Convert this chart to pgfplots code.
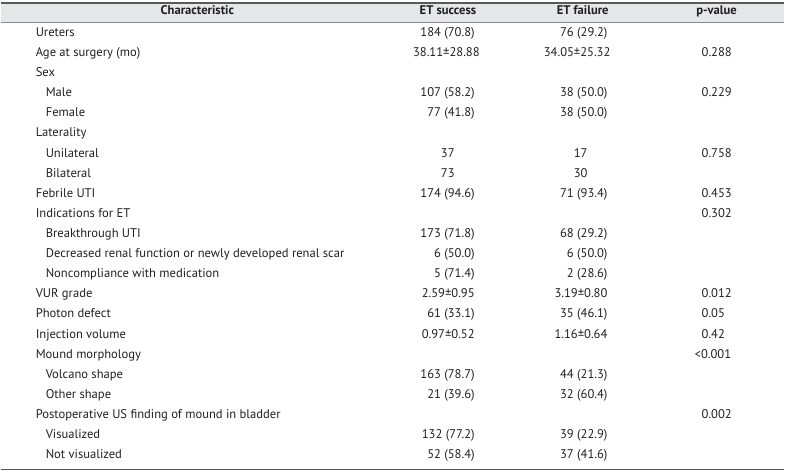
\documentclass[border=0pt]{standalone}
\usepackage{pgfplots}
\usepackage{pgfplotstable}
\pgfplotsset{compat=1.18}
\usepackage{fontspec}
\setmainfont{PT Sans}
\definecolor{txt}{HTML}{231F20}
\definecolor{hdr}{HTML}{E6E7E8}
\definecolor{rule}{HTML}{58595B}
\pgfplotstableread[col sep=semicolon]{
row;ind;char;xs;succ;xf;fail;xp;p
0;35;Ureters;475;184 (70.8);608;76 (29.2);702;{}
1;35;Age at surgery (mo);480;38.11±28.88;611;34.05±25.32;702;0.288
2;35;Sex;475;{};608;{};702;{}
3;45;Male;475;107 (58.2);608;38 (50.0);702;0.229
4;45;Female;475;77 (41.8);608;38 (50.0);702;{}
5;35;Laterality;475;{};608;{};702;{}
6;45;Unilateral;455;37;588;17;702;0.758
7;45;Bilateral;455;73;588;30;702;{}
8;35;Febrile UTI;475;174 (94.6);608;71 (93.4);702;0.453
9;35;Indications for ET;475;{};608;{};702;0.302
10;45;Breakthrough UTI;475;173 (71.8);608;68 (29.2);702;{}
11;45;Decreased renal function or newly developed renal scar;475;6 (50.0);608;6 (50.0);702;{}
12;45;Noncompliance with medication;475;5 (71.4);608;2 (28.6);702;{}
13;35;VUR grade;475;2.59±0.95;608;3.19±0.80;702;0.012
14;35;Photon defect;475;61 (33.1);608;35 (46.1);702;0.05
15;35;Injection volume;475;0.97±0.52;608;1.16±0.64;702;0.42
16;35;Mound morphology;475;{};608;{};695;<0.001
17;45;Volcano shape;475;163 (78.7);608;44 (21.3);702;{}
18;45;Other shape;475;21 (39.6);608;32 (60.4);702;{}
19;35;Postoperative US finding of mound in bladder;475;{};608;{};702;0.002
20;45;Visualized;475;132 (77.2);608;39 (22.9);702;{}
21;45;Not visualized;475;52 (58.4);608;37 (41.6);702;{}
}\tbl
\begin{document}
\begin{tikzpicture}
\begin{axis}[
  scale only axis, width=785pt, height=473pt,
  xmin=0, xmax=785, ymin=0, ymax=473, y dir=reverse,
  hide axis, clip=false,
  every node near coord/.append style={font=\fontsize{12.6}{15}\selectfont, text=txt, inner sep=0pt},
]
\path (axis cs:0,0) rectangle (axis cs:785,473);
\fill[hdr] (axis cs:0,3) rectangle (axis cs:785,22.5);
\draw[rule, line width=1.3pt] (axis cs:0,3) -- (axis cs:785,3);
\draw[rule!70, line width=0.6pt] (axis cs:0,22.5) -- (axis cs:785,22.5);
\draw[rule, line width=1pt] (axis cs:0,470.5) -- (axis cs:785,470.5);
\node[font=\fontsize{12.6}{15}\selectfont\bfseries, text=txt, anchor=mid] at (axis cs:197,12.5) {Characteristic};
\node[font=\fontsize{12.6}{15}\selectfont\bfseries, text=txt, anchor=mid] at (axis cs:448,12.5) {ET success};
\node[font=\fontsize{12.6}{15}\selectfont\bfseries, text=txt, anchor=mid] at (axis cs:583,12.5) {ET failure};
\node[font=\fontsize{12.6}{15}\selectfont\bfseries, text=txt, anchor=mid] at (axis cs:717,12.5) {p-value};
\addplot[only marks, mark=none, nodes near coords, point meta=explicit symbolic,
  nodes near coords style={anchor=mid west}]
  table[x=ind, y expr={34+20.14*\thisrow{row}}, meta=char] {\tbl};
\addplot[only marks, mark=none, nodes near coords, point meta=explicit symbolic,
  nodes near coords style={anchor=mid east}]
  table[x=xs, y expr={34+20.14*\thisrow{row}}, meta=succ] {\tbl};
\addplot[only marks, mark=none, nodes near coords, point meta=explicit symbolic,
  nodes near coords style={anchor=mid east}]
  table[x=xf, y expr={34+20.14*\thisrow{row}}, meta=fail] {\tbl};
\addplot[only marks, mark=none, nodes near coords, point meta=explicit symbolic,
  nodes near coords style={anchor=mid west}]
  table[x=xp, y expr={34+20.14*\thisrow{row}}, meta=p] {\tbl};
\end{axis}
\end{tikzpicture}
\end{document}
